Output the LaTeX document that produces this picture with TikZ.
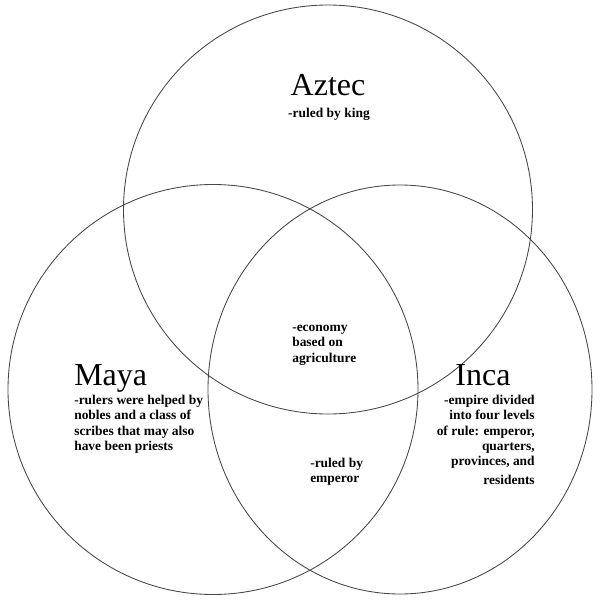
\documentclass[tikz,border=0pt]{standalone}
\usepackage{fontspec}
\setmainfont{Liberation Serif}
\begin{document}
\begin{tikzpicture}[x=0.75pt,y=-0.75pt,
  ring/.style={draw=black!72,line width=0.65pt},
  title/.style={inner sep=0pt,font=\fontsize{24}{28}\selectfont},
  body/.style={inner sep=0pt,font=\bfseries\fontsize{10.1}{11.6}\selectfont},
]
\useasboundingbox (0,0) rectangle (600,604);
\draw[ring] (328,209.5) circle [radius=204.5];
\draw[ring] (213,389.5) circle [radius=205];
\draw[ring] (400,389.5) ellipse [x radius=192, y radius=204.5];

\node[title,anchor=base] (aztec) at (328,95) {Aztec};
\node[body,anchor=base] (aztecb) at (329,117) {-ruled by king};

\node[title,anchor=base west] (maya) at (74,385) {Maya};
\node[body,anchor=north west,align=left] (mayab) at (74,394.5)
  {-rulers were helped by\\nobles and a class of\\scribes that may also\\have been priests};

\node[title,anchor=base] (inca) at (483,385) {Inca};
\node[body,anchor=north east,align=right] (incab) at (535,394.5)
  {-empire divided\\into four levels\\of rule: emperor,\\quarters,\\provinces, and\\[2pt]residents};

\node[body,anchor=north west,align=left] (all) at (292,324.5)
  {-economy\\based on\\agriculture};
\node[body,anchor=north west,align=left] (mi) at (310,457.5)
  {-ruled by\\emperor};
\end{tikzpicture}
\end{document}
